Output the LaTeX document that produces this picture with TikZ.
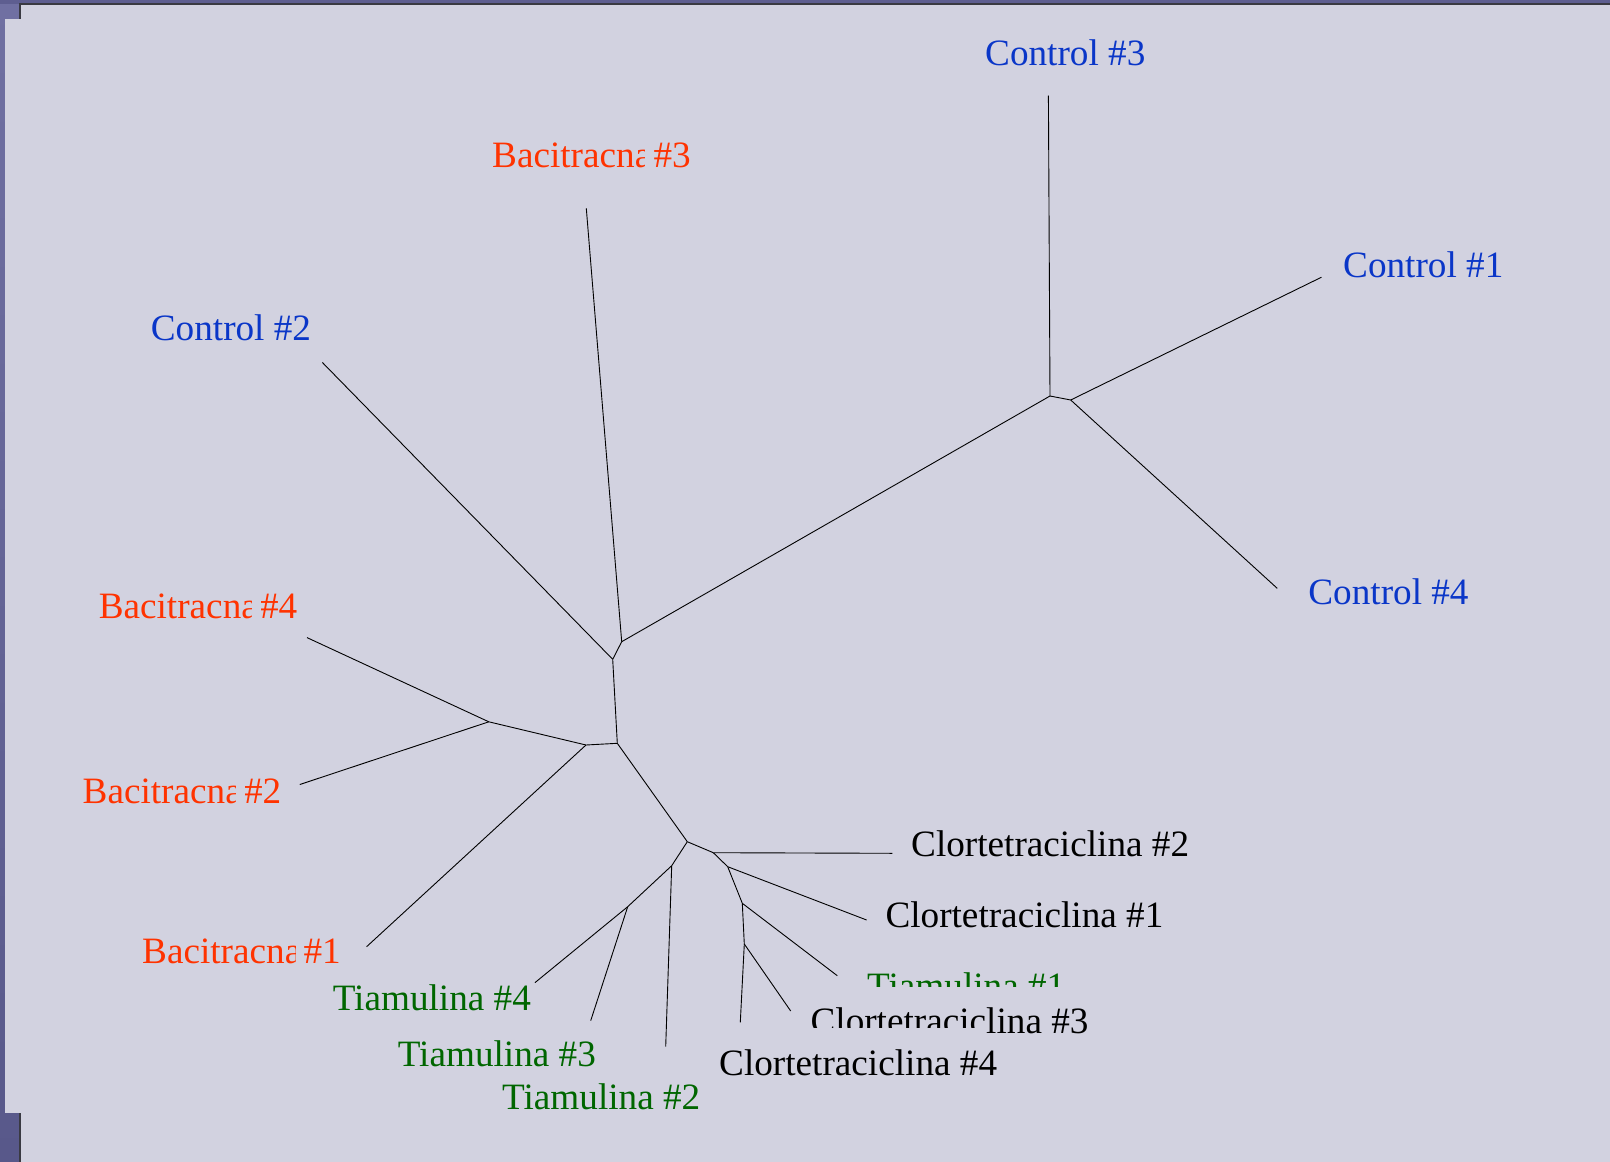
\documentclass[tikz,border=0pt]{standalone}
\usepackage{fontspec}
\setmainfont{Liberation Serif}
\definecolor{bgc}{HTML}{D2D2E0}
\definecolor{frameA}{HTML}{7070A2}
\definecolor{frameB}{HTML}{58588A}
\definecolor{frameTop}{HTML}{5E5E90}
\definecolor{edgeline}{HTML}{3A3A42}
\definecolor{ctrlblue}{HTML}{0A36C8}
\definecolor{bacred}{HTML}{FF3300}
\definecolor{tiagreen}{HTML}{006600}
\begin{document}
\begin{tikzpicture}[x=1pt,y=-1pt,
  branch/.style={line width=0.9pt,black},
  lbl/.style={anchor=base west,inner sep=0pt,font=\fontsize{37.2}{45}\selectfont},
  ctl/.style={lbl,text=ctrlblue},
  bac/.style={lbl,text=bacred},
  tia/.style={lbl,text=tiagreen},
  clo/.style={lbl,text=black}]
\useasboundingbox (0,0) rectangle (1610,1162);
% frame / background
\shade[top color=frameA,bottom color=frameB] (0,0) rectangle (1610,1162);
\fill[frameTop] (0,0) rectangle (1610,4);
\fill[bgc] (21,5) rectangle (1610,1162);
\draw[edgeline,line width=2pt] (20,1162) -- (20,4) -- (1610,4);
\fill[bgc] (5,19) rectangle (1610,1113);
% internal nodes
\coordinate (A) at (1050,396);
\coordinate (B) at (1070.7,400);
\coordinate (C) at (621.7,641.7);
\coordinate (D) at (612.7,659.3);
\coordinate (E) at (617.3,743.3);
\coordinate (F) at (586,745);
\coordinate (G) at (488.8,721.8);
\coordinate (H) at (687.3,841.7);
\coordinate (I) at (671.7,865.7);
\coordinate (J) at (627.7,906.7);
\coordinate (K) at (713.3,852.7);
\coordinate (L) at (727.7,866.7);
\coordinate (M) at (742.3,903.3);
\coordinate (N) at (744.3,944);
% leaf ends
\coordinate (c3) at (1048.4,95.5);
\coordinate (c1) at (1321.5,277.2);
\coordinate (c4) at (1277.3,588.4);
\coordinate (b3) at (586.3,208.4);
\coordinate (c2) at (322.4,362.5);
\coordinate (b4) at (307,637.6);
\coordinate (b2) at (299.8,784.5);
\coordinate (b1) at (366.6,946.7);
\coordinate (t4) at (535,982.6);
\coordinate (t3) at (590.7,1020.7);
\coordinate (t2) at (665.7,1046.7);
\coordinate (k2) at (892.3,853.3);
\coordinate (k1) at (866.6,920);
\coordinate (t1) at (837.3,975.7);
\coordinate (k3) at (790.7,1011);
\coordinate (k4) at (740.3,1022.3);
% branches
\draw[branch] (A) -- (c3);
\draw[branch] (A) -- (B);
\draw[branch] (B) -- (c1);
\draw[branch] (B) -- (c4);
\draw[branch] (A) -- (C);
\draw[branch] (C) -- (b3);
\draw[branch] (C) -- (D);
\draw[branch] (D) -- (c2);
\draw[branch] (D) -- (E);
\draw[branch] (E) -- (F);
\draw[branch] (F) -- (G);
\draw[branch] (G) -- (b4);
\draw[branch] (G) -- (b2);
\draw[branch] (F) -- (b1);
\draw[branch] (E) -- (H);
\draw[branch] (H) -- (I);
\draw[branch] (I) -- (t2);
\draw[branch] (I) -- (J);
\draw[branch] (J) -- (t3);
\draw[branch] (J) -- (t4);
\draw[branch] (H) -- (K);
\draw[branch] (K) -- (k2);
\draw[branch] (K) -- (L);
\draw[branch] (L) -- (k1);
\draw[branch] (L) -- (M);
\draw[branch] (M) -- (t1);
\draw[branch] (M) -- (N);
\draw[branch] (N) -- (k3);
\draw[branch] (N) -- (k4);
% labels
\node[ctl] (lc3) at (985,65.3) {Control \#3};
\node[ctl] (lc1) at (1343,277) {Control \#1};
\node[ctl] (lc2) at (150.7,340) {Control \#2};
\node[ctl] (lc4) at (1308.2,604.7) {Control \#4};
\begin{scope}
  \clip (480,120) rectangle (644,180) (653,120) rectangle (720,180);
  \node[bac] (lb3) at (492,167.3) {Bacitracna\hspace{-7pt} \#3};
\end{scope}
\begin{scope}
  \clip (80,570) rectangle (251.7,630) (260.7,570) rectangle (330,630);
  \node[bac] (lb4) at (98.6,618.2) {Bacitracna\hspace{-7pt} \#4};
\end{scope}
\begin{scope}
  \clip (60,755) rectangle (235.7,815) (244.7,755) rectangle (320,815);
  \node[bac] (lb2) at (82.5,803.9) {Bacitracna\hspace{-7pt} \#2};
\end{scope}
\begin{scope}
  \clip (120,915) rectangle (295.2,975) (304.2,915) rectangle (380,975);
  \node[bac] (lb1) at (142,963.1) {Bacitracna\hspace{-7pt} \#1};
\end{scope}
\node[clo] (lk2) at (911,856.3) {Clortetraciclina \#2};
\node[clo] (lk1) at (885.3,927.2) {Clortetraciclina \#1};
\begin{scope}
  \clip (840,950) rectangle (1120,986.7);
  \node[tia] (lt1) at (867,998.5) {Tiamulina \#1};
\end{scope}
\begin{scope}
  \clip (790,986) -- (1120,986) -- (1120,1050) -- (986,1050) -- (986,1027.3) -- (790,1027.3) -- cycle;
  \node[clo] (lk3) at (810.4,1033.2) {Clortetraciclina \#3};
\end{scope}
\node[tia] (lt4) at (332.6,1010.5) {Tiamulina \#4};
\node[tia] (lt3) at (397.6,1066) {Tiamulina \#3};
\node[clo] (lk4) at (719,1075.8) {Clortetraciclina \#4};
\node[tia] (lt2) at (502,1109.5) {Tiamulina \#2};
\end{tikzpicture}
\end{document}
